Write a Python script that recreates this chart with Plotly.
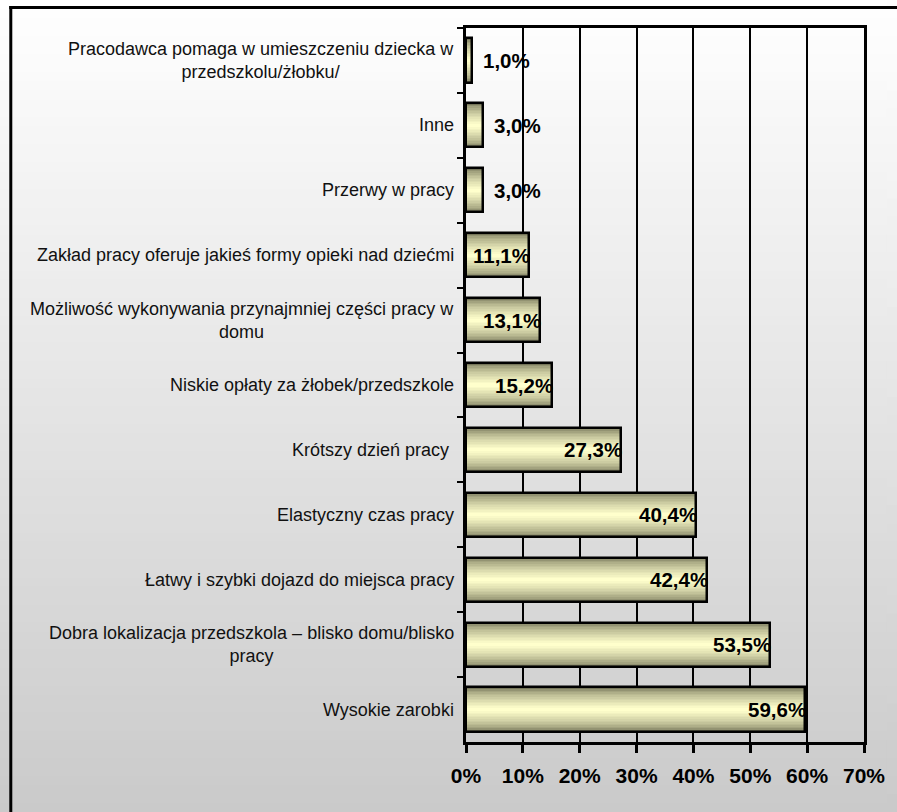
import plotly.graph_objects as go

# ---------------- data ----------------
categories = [
    "Pracodawca pomaga w umieszczeniu dziecka w<br>przedszkolu/żłobku/",
    "Inne",
    "Przerwy w pracy",
    "Zakład pracy oferuje jakieś formy opieki nad dziećmi",
    "Możliwość wykonywania przynajmniej części pracy w<br>domu",
    "Niskie opłaty za żłobek/przedszkole",
    "Krótszy dzień pracy\u00a0",
    "Elastyczny czas pracy",
    "Łatwy i szybki dojazd do miejsca pracy",
    "Dobra lokalizacja przedszkola – blisko domu/blisko<br>pracy",
    "Wysokie zarobki",
]
values = [1.0, 3.0, 3.0, 11.1, 13.1, 15.2, 27.3, 40.4, 42.4, 53.5, 59.6]
tick_vals = [0, 10, 20, 30, 40, 50, 60, 70]
tick_text = ["0%", "10%", "20%", "30%", "40%", "50%", "60%", "70%"]

# ---------------- layout geometry ----------------
W, H = 897, 812
L, R, T, B = 466, 866, 28, 742
FONT = "Liberation Sans, Arial"


def px_x(px):
    return (px - L) / (R - L)


def px_y(py):
    return (B - py) / (B - T)


def mix(c1, c2, t):
    return tuple(round(a + (b - a) * t) for a, b in zip(c1, c2))


def grey_at(py):
    g = round(255 - 53 * py / H)
    return "rgb(%d,%d,%d)" % (g, g, g)


fig = go.Figure()

# bar gradient emulated with overlaid bars of decreasing thickness
BAR_W = 0.68
edge = (118, 118, 90)
center = (255, 255, 204)
n_layers = 14
for k in range(n_layers):
    t = k / (n_layers - 1)
    c = mix(edge, center, t ** 0.6)
    fig.add_trace(go.Bar(
        x=values, y=categories, orientation="h",
        width=BAR_W * (1 - k / n_layers),
        marker=dict(color="rgb(%d,%d,%d)" % c, line=dict(width=0)),
        hoverinfo="skip", showlegend=False,
    ))
# outline
fig.add_trace(go.Bar(
    x=values, y=categories, orientation="h", width=BAR_W,
    marker=dict(color="rgba(0,0,0,0)", line=dict(color="black", width=2.5)),
    hoverinfo="skip", showlegend=False,
))

annotations = []
# category labels (centered multi-line, right anchored)
for cat in categories:
    annotations.append(dict(
        x=0, xref="paper", y=cat, yref="y", text=cat,
        xanchor="right", yanchor="middle", align="center", xshift=-10,
        showarrow=False,
        font=dict(family=FONT, size=18, color="#111111"),
    ))
# value labels
for cat, v in zip(categories, values):
    txt = "<b>" + ("%.1f" % v).replace(".", ",") + "%</b>"
    if v >= 10:
        a = dict(x=v, xanchor="right", xshift=3)
    else:
        a = dict(x=v, xanchor="left", xshift=9)
    a.update(dict(
        y=cat, yref="y", xref="x", text=txt, yanchor="middle",
        showarrow=False,
        font=dict(family=FONT, size=20.5, color="black"),
    ))
    annotations.append(a)

# background gradient strips (paper coords)
shapes = []
N = 90
for i in range(N):
    p0 = i * H / N
    p1 = (i + 1) * H / N + 1 if i < N - 1 else H + 40
    col = grey_at(min(H, (p0 + p1) / 2))
    shapes.append(dict(
        type="rect", xref="paper", yref="paper",
        x0=px_x(-10), x1=px_x(W + 60), y0=px_y(p1), y1=px_y(p0),
        fillcolor=col, line=dict(width=0), layer="below",
    ))
# cover strip on the far right edge (drawn above)
N2 = 45
for i in range(N2):
    p0 = i * H / N2
    p1 = (i + 1) * H / N2 + 1 if i < N2 - 1 else H + 40
    col = grey_at(min(H, (p0 + p1) / 2))
    shapes.append(dict(
        type="rect", xref="paper", yref="paper",
        x0=px_x(889), x1=px_x(W + 60), y0=px_y(p1), y1=px_y(p0),
        fillcolor=col, line=dict(width=0), layer="above",
    ))
# outer frame: only left and top edges fall inside the picture
shapes.append(dict(
    type="line", xref="paper", yref="paper",
    x0=px_x(8.5), x1=px_x(8.5), y0=px_y(H + 40), y1=px_y(6),
    line=dict(color="black", width=3), layer="above",
))
shapes.append(dict(
    type="line", xref="paper", yref="paper",
    x0=px_x(7), x1=px_x(W + 60), y0=px_y(7.5), y1=px_y(7.5),
    line=dict(color="black", width=3), layer="above",
))

fig.update_layout(
    width=W, height=H,
    margin=dict(l=L, r=W - R, t=T, b=H - B, pad=0),
    paper_bgcolor="#cacaca",
    plot_bgcolor="rgba(0,0,0,0)",
    barmode="overlay",
    bargap=0,
    annotations=annotations,
    shapes=shapes,
    showlegend=False,
    font=dict(family=FONT, color="black"),
)
fig.update_xaxes(
    range=[0, 70], tickvals=tick_vals,
    ticktext=["<b>%s</b>" % t for t in tick_text],
    tickfont=dict(family=FONT, size=21, color="black"),
    ticklabelstandoff=5,
    showgrid=True, gridcolor="black", gridwidth=2,
    showline=True, linecolor="black", linewidth=3, mirror=True,
    ticks="outside", ticklen=8, tickwidth=3, tickcolor="black",
    zeroline=False, fixedrange=True,
)
fig.update_yaxes(
    categoryorder="array", categoryarray=categories, autorange="reversed",
    showticklabels=False,
    showline=True, linecolor="black", linewidth=3, mirror=True,
    ticks="outside", ticklen=6, tickwidth=2, tickcolor="black",
    tickson="boundaries", showgrid=False, zeroline=False, fixedrange=True,
)

fig.write_html("out.html", config={"displayModeBar": False})
